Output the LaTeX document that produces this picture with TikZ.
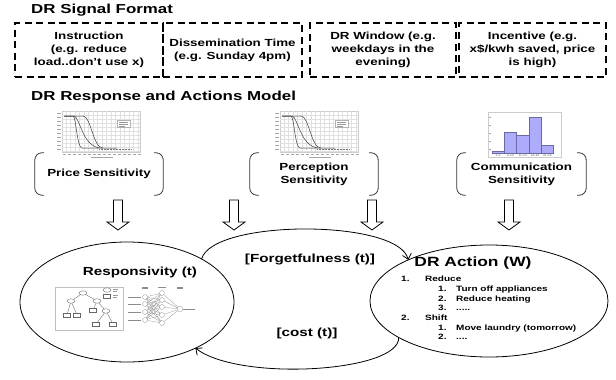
\documentclass[tikz,border=0pt]{standalone}
\usepackage{fontspec}
\setmainfont{Liberation Sans}[FakeStretch=1.3]
\usetikzlibrary{shapes.geometric,arrows.meta,positioning}
\definecolor{barFill}{RGB}{172,172,250}
\definecolor{barEdge}{RGB}{105,105,165}
\newcommand{\itm}[2]{\makebox[24pt][l]{#1}#2}
\newcommand{\subitm}[2]{\hspace*{37pt}\makebox[18pt][l]{#1}#2}
\tikzstyle{titleText}=[font = \fontsize{13}{15}\selectfont\bfseries, inner sep = 0pt]
\tikzstyle{sigBox}=[draw, line width = 1.2pt, dash pattern = on 7pt off 4.5pt, minimum height = 54pt, align = center, inner sep = 2pt, font = \fontsize{10.3}{13}\selectfont\bfseries]
\tikzstyle{sensGroup}=[minimum height = 42pt, align = center, inner sep = 0pt, font = \fontsize{10.3}{13}\selectfont\bfseries]
\tikzstyle{bracketLine}=[draw = black!80, line width = 0.8pt, rounded corners = 7pt]
\tikzstyle{modelEll}=[ellipse, draw, line width = 0.8pt, inner sep = 0pt, outer sep = 0pt]
\tikzstyle{midText}=[font = \fontsize{11.7}{14}\selectfont\bfseries, inner sep = 0pt]
\tikzstyle{loopLine}=[line width = 0.8pt, -{Straight Barb[length=5pt,width=9pt]}]
\tikzset{
  blockArr/.pic={
    \draw[line width = 0.8pt, fill = white] (-4.5,0) -- (4.5,0) -- (4.5,22) -- (11,22) -- (0,30) -- (-11,22) -- (-4.5,22) -- cycle;
  },
  sigChart/.pic={
    \draw[black!20, line width = 0.4pt] (7,1) rectangle (85,42);
    \foreach \gx in {11,15.5,...,83} \draw[black!12, line width = 0.25pt] (\gx,1) -- (\gx,42);
    \foreach \gy in {5,9,...,41} \draw[black!12, line width = 0.25pt] (7,\gy) -- (85,\gy);
    \foreach \ty in {3,7,...,41} \draw[black!35, line width = 0.35pt] (2,\ty) -- (5.5,\ty);
    \foreach \tx in {9,14,...,84} \draw[black!35, line width = 0.35pt] (\tx-1.5,44) -- (\tx+1.5,44);
    \draw[black!35, line width = 0.35pt] (36,47) -- (58,47);
    \draw[black!75, line width = 0.5pt] (9,6) -- (18,6) .. controls (21,6) and (22,38) .. (27,38) -- (62,38);
    \draw[black!75, line width = 0.5pt] (9,6) -- (19,6) .. controls (25,7) and (27,36) .. (45,38);
    \draw[black!75, line width = 0.5pt] (9,6) -- (28,6) .. controls (36,6) and (38,38) .. (48,38);
    \draw[black!55, densely dotted, line width = 0.5pt] (44,39.5) -- (76,39.5);
    \draw[black!30, fill = white, line width = 0.3pt] (62,10) rectangle (75,17);
    \draw[black!40, line width = 0.3pt] (64,12) -- (73,12) (64,14) -- (73,14) (64,16) -- (70,16);
  },
  histChart/.pic={
    \draw[black!20, line width = 0.4pt] (0,0) rectangle (73,45);
    \foreach \bl/\bt in {4/39,16.3/20,28.6/23,40.9/5,53.2/33}
      \draw[draw = barEdge, fill = barFill, line width = 0.4pt] (\bl,\bt) rectangle ++(12.3,41-\bt);
    \foreach \ty in {5,13,21,29,37} \draw[black!35, line width = 0.3pt] (0.6,\ty) -- (2.8,\ty);
    \foreach \lx/\lt [count=\k] in {10.15/1-5,22.45/6-10,34.75/11-15,47.05/16-20,59.35/21-25}
      \node[font = \fontsize{2.6}{3}\selectfont, text = black!65, inner sep = 0pt] (histLab\k) at (\lx,43.2) {\lt};
  },
  treeImg/.pic={
    \draw[black!25, line width = 0.4pt] (0,0) rectangle (68,43);
    \begin{scope}[black!60, line width = 0.35pt]
      \draw (28,6) -- (16,14) (28,6) -- (42,14) (16,14) -- (12,28) (16,14) -- (22,28)
            (42,14) -- (38,23) (42,14) -- (51,24) (51,24) -- (41,37) (51,24) -- (58,37);
      \foreach \ex/\ey in {28/6,16/14,42/14,51/24,52/3} \draw[fill = white] (\ex,\ey) ellipse (4 and 2.2);
      \foreach \bx/\by in {12/28,22/28,38/23,41/37,58/37,52/9} \draw[fill = white] (\bx-3.5,\by-2) rectangle (\bx+3.5,\by+2);
      \draw[black!40, line width = 0.3pt] (58,2.5) -- (63,2.5) (58,4.5) -- (62,4.5) (58,8.5) -- (63,8.5) (58,10.5) -- (62,10.5);
    \end{scope}
  },
  netImg/.pic={
    \begin{scope}[black!45, line width = 0.25pt]
      \foreach \iy in {10,17,25,33} {
        \foreach \hy in {6,13,20,28,36} \draw (20,\iy) -- (37,\hy);
        \draw (3,\iy) -- (16,\iy);
      }
      \foreach \hy in {6,13,20,28,36} \draw (37,\hy) -- (55,22);
      \draw (58,22) -- (70,22);
      \foreach \iy in {10,17,25,33} \draw[fill = white] (20,\iy) circle (2.5);
      \foreach \hy in {6,13,20,28,36} \draw[fill = white] (37,\hy) circle (2.5);
      \draw[fill = white] (55,22) circle (2.8);
      \draw (17,0) -- (23,0) (17,1.5) -- (23,1.5) (33,0) -- (41,0) (52,0) -- (58,0) (52,1.5) -- (58,1.5);
    \end{scope}
  }
}
\begin{document}
\begin{tikzpicture}[x = 1pt, y = -1pt]
\useasboundingbox[fill = white] (0,0) rectangle (616,380);
\node[titleText, anchor = west] (sigTitle) at (31,10) {DR Signal Format};
\node[sigBox, minimum width = 148pt] (instr) at (89,50) {Instruction\\(e.g. reduce\\load..don’t use x)};
\node[sigBox, minimum width = 139pt] (dissem) at (232.5,50) {Dissemination Time\\(e.g. Sunday 4pm)};
\node[sigBox, minimum width = 146pt] (window) at (383,50) {DR Window (e.g.\\weekdays in the\\evening)};
\node[sigBox, minimum width = 147pt] (incent) at (532.5,50) {Incentive (e.g.\\x\$/kwh saved, price\\is high)};
\node[titleText, anchor = west] (modTitle) at (31,97) {DR Response and Actions Model};
\pic at (55,110) {sigChart};
\pic at (273,110) {sigChart};
\pic at (488,112) {histChart};
\node[sensGroup, minimum width = 128pt] (price) at (99,174) {Price Sensitivity};
\node[sensGroup, minimum width = 128pt] (percep) at (314,174) {Perception\\Sensitivity};
\node[sensGroup, minimum width = 129pt] (comm) at (521.5,174) {Communication\\Sensitivity};
\foreach \g in {price,percep,comm} {
  \draw[bracketLine] ([xshift = 9pt]\g.north west) -- (\g.north west) -- (\g.south west) -- ([xshift = 9pt]\g.south west);
  \draw[bracketLine] ([xshift = -9pt]\g.north east) -- (\g.north east) -- (\g.south east) -- ([xshift = -9pt]\g.south east);
}
\foreach \ax in {118,234,372,509} \pic at (\ax,200) {blockArr};
\node[modelEll, minimum width = 214pt, minimum height = 120pt] (resp) at (127,302) {};
\node[modelEll, minimum width = 238pt, minimum height = 112pt] (act) at (489,301) {};
\node[midText] (respLabel) at (140,272) {Responsivity (t)};
\pic at (55,287) {treeImg};
\pic at (125,287) {netImg};
\node[font = \fontsize{13.4}{16}\selectfont\bfseries, inner sep = 0pt] (actLabel) at (473,263) {DR Action (W)};
\node[font = \fontsize{7.7}{9.7}\selectfont\bfseries, align = left, inner sep = 0pt, anchor = north west] (actList) at (401,276)
  {\itm{1.}{Reduce}\\\subitm{1.}{Turn off appliances}\\\subitm{2.}{Reduce heating}\\\subitm{3.}{.....}\\\itm{2.}{Shift}\\\subitm{1.}{Move laundry (tomorrow)}\\\subitm{2.}{....}};
\node[midText] (forget) at (310,259) {[Forgetfulness (t)]};
\node[midText] (cost) at (307,333) {[cost (t)]};
\draw[loopLine] (resp.30) .. controls (213,219) and (398,219) .. (act.153);
\draw[loopLine] (act.202) .. controls (400,372) and (240,382) .. (resp.326);
\end{tikzpicture}
\end{document}
